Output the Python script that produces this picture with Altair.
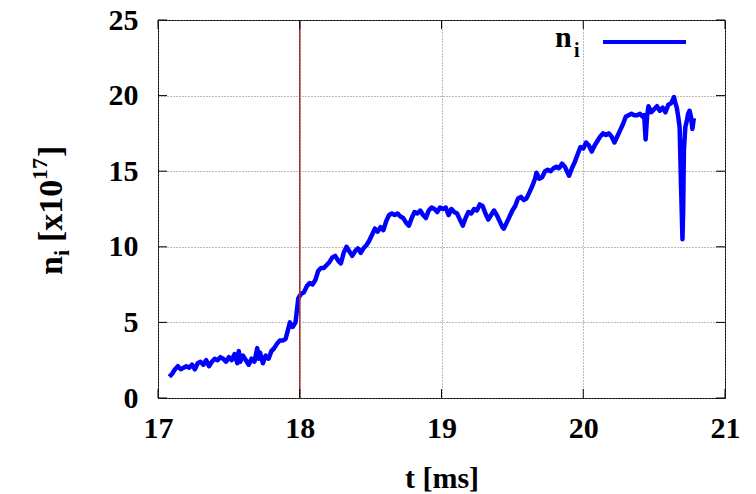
import altair as alt
import pandas as pd

# Ion density n_i [x10^17] against time t [ms]
t_ms = [
    17.08, 17.10, 17.12, 17.14, 17.16, 17.18, 17.20, 17.22, 17.24, 17.26,
    17.28, 17.30, 17.32, 17.34, 17.36, 17.38, 17.40, 17.42, 17.44, 17.46,
    17.48, 17.50, 17.52, 17.54, 17.56, 17.57, 17.58, 17.60, 17.62, 17.64,
    17.66, 17.68, 17.70, 17.71, 17.72, 17.74, 17.76, 17.78, 17.80, 17.82,
    17.84, 17.86, 17.88, 17.90, 17.92, 17.93, 17.95, 17.97, 17.98, 17.99,
    18.01, 18.03, 18.05, 18.07, 18.09, 18.11, 18.13, 18.15, 18.17, 18.19,
    18.21, 18.23, 18.25, 18.27, 18.29, 18.31, 18.33, 18.35, 18.37, 18.39,
    18.41, 18.43, 18.45, 18.47, 18.49, 18.51, 18.53, 18.55, 18.57, 18.59,
    18.61, 18.63, 18.65, 18.67, 18.69, 18.71, 18.73, 18.75, 18.77, 18.79,
    18.81, 18.83, 18.85, 18.87, 18.89, 18.91, 18.93, 18.95, 18.97, 18.99,
    19.01, 19.03, 19.05, 19.07, 19.09, 19.11, 19.13, 19.15, 19.17, 19.19,
    19.21, 19.23, 19.25, 19.27, 19.29, 19.31, 19.33, 19.35, 19.37, 19.39,
    19.41, 19.43, 19.44, 19.46, 19.48, 19.50, 19.52, 19.54, 19.56, 19.58,
    19.60, 19.62, 19.64, 19.66, 19.67, 19.69, 19.71, 19.73, 19.75, 19.77,
    19.79, 19.81, 19.83, 19.85, 19.87, 19.89, 19.90, 19.92, 19.94, 19.96,
    19.98, 20.00, 20.02, 20.04, 20.06, 20.08, 20.10, 20.12, 20.14, 20.16,
    20.18, 20.20, 20.22, 20.24, 20.26, 20.28, 20.30, 20.32, 20.34, 20.36,
    20.38, 20.40, 20.42, 20.43, 20.44, 20.45, 20.46, 20.48, 20.50, 20.52,
    20.54, 20.56, 20.58, 20.60, 20.62, 20.64, 20.65, 20.66, 20.67, 20.68,
    20.69, 20.70, 20.705, 20.71, 20.72, 20.73, 20.74, 20.75, 20.76, 20.77,
    20.78,
]
n_i = [
    1.4, 1.6, 1.9, 2.1, 1.9, 2.0, 2.1, 2.0, 2.2, 1.9,
    2.3, 2.4, 2.2, 2.5, 2.1, 2.4, 2.6, 2.5, 2.7, 2.6,
    2.4, 2.7, 2.5, 2.9, 2.3, 3.1, 2.4, 2.8, 2.5, 2.2,
    2.6, 2.4, 3.3, 2.6, 3.0, 2.3, 2.8, 2.6, 3.1, 3.3,
    3.6, 3.8, 3.8, 3.9, 4.6, 5.0, 4.7, 5.0, 5.8, 6.6,
    6.9, 7.0, 7.4, 7.6, 7.5, 7.8, 8.4, 8.6, 8.6, 8.8,
    9.0, 9.3, 9.4, 9.1, 8.9, 9.6, 10.0, 9.7, 9.4, 9.7,
    9.9, 9.6, 9.9, 10.1, 10.4, 10.8, 11.2, 11.0, 11.3, 11.1,
    11.7, 12.1, 12.2, 12.1, 12.2, 12.0, 11.9, 11.6, 11.4, 11.9,
    12.3, 12.2, 12.4, 12.1, 11.9, 12.4, 12.6, 12.5, 12.3, 12.6,
    12.5, 12.6, 12.1, 12.5, 12.3, 12.2, 11.8, 11.4, 11.9, 12.3,
    12.2, 12.5, 12.4, 12.8, 12.7, 12.2, 11.8, 12.1, 12.4, 12.1,
    11.7, 11.3, 11.2, 11.6, 12.0, 12.4, 12.7, 13.2, 13.3, 13.1,
    13.2, 13.6, 14.0, 14.5, 14.9, 14.5, 14.6, 15.0, 15.1, 15.0,
    15.2, 15.3, 15.2, 15.5, 15.3, 14.9, 14.7, 15.2, 15.6, 16.1,
    16.6, 16.5, 16.9, 16.7, 16.3, 16.7, 17.0, 17.3, 17.5, 17.4,
    17.5, 17.3, 16.9, 17.3, 17.7, 18.1, 18.6, 18.7, 18.8, 18.7,
    18.7, 18.8, 18.6, 18.7, 17.1, 18.6, 19.3, 18.9, 19.1, 19.3,
    19.0, 19.2, 18.9, 19.4, 19.5, 19.9, 19.5, 19.2, 18.6, 17.9,
    14.0, 10.5, 12.5, 16.4, 17.9, 18.3, 18.8, 19.0, 18.6, 17.8,
    18.5,
]

x_ticks = [17, 18, 19, 20, 21]
y_ticks = [0, 5, 10, 15, 20, 25]
marker_t = [18.0]

FONT = "'Liberation Serif', 'Times New Roman', Times, 'DejaVu Serif', serif"
W, H = 567, 378
TICK = 9

df = pd.DataFrame({"t": t_ms, "n": n_i})
xs = alt.Scale(domain=[17, 21], nice=False, zero=False)
ys = alt.Scale(domain=[0, 25], nice=False)

line = alt.Chart(df).mark_line(
    color="#0000ff", strokeWidth=4.5, strokeJoin="round"
).encode(
    x=alt.X("t:Q", scale=xs, axis=alt.Axis(
        values=x_ticks, title="t [ms]", labelPadding=15, titlePadding=20,
        labelFlush=False)),
    y=alt.Y("n:Q", scale=ys, axis=alt.Axis(
        values=y_ticks, title=None, labelPadding=20, labelFlush=False)),
)

marker = alt.Chart(pd.DataFrame({"t": marker_t})).mark_rule(
    color="#a3302c", strokeWidth=1.5
).encode(x=alt.X("t:Q", scale=xs, axis=None))

yt = pd.DataFrame({"v": y_ticks})
xt = pd.DataFrame({"v": x_ticks})
tick_l = alt.Chart(yt).mark_rule(color="black").encode(
    y=alt.Y("v:Q", scale=ys, axis=None), x=alt.value(0), x2=alt.value(TICK))
tick_r = alt.Chart(yt).mark_rule(color="black").encode(
    y=alt.Y("v:Q", scale=ys, axis=None), x=alt.value(W - TICK), x2=alt.value(W))
tick_b = alt.Chart(xt).mark_rule(color="black").encode(
    x=alt.X("v:Q", scale=xs, axis=None), y=alt.value(H - TICK), y2=alt.value(H))
tick_t = alt.Chart(xt).mark_rule(color="black").encode(
    x=alt.X("v:Q", scale=xs, axis=None), y=alt.value(0), y2=alt.value(TICK))


def label(txt, x, y, size, angle=0):
    return alt.Chart(pd.DataFrame({"s": [txt]})).mark_text(
        font=FONT, fontWeight="bold", fontSize=size, color="black",
        align="left", baseline="alphabetic", angle=angle
    ).encode(x=alt.value(x), y=alt.value(y), text="s:N")


# key: "n" with subscript "i" and a line sample
key = [
    label("n", 397, 27, 30),
    label("i", 416, 37, 20),
    alt.Chart(pd.DataFrame({"s": [0]})).mark_rule(
        color="#0000ff", strokeWidth=4
    ).encode(x=alt.value(445), x2=alt.value(528), y=alt.value(22)),
]

# rotated y title: n_i [x10^17]
ytitle = [
    label("n", -96, 255, 34, 270),
    label("i", -89, 236, 22, 270),
    label("[x10", -96, 222, 34, 270),
    label("17", -111, 160, 22, 270),
    label("]", -96, 137, 34, 270),
]

chart = alt.layer(
    line, marker, tick_l, tick_r, tick_b, tick_t, *key, *ytitle
).resolve_axis(
    x="independent", y="independent"
).properties(
    width=W, height=H,
    autosize=alt.AutoSizeParams(type="none"),
    padding={"left": 158, "top": 20, "right": 31, "bottom": 96},
    background="white",
).configure_view(
    stroke="black", strokeWidth=1
).configure_axis(
    labelFont=FONT, labelFontWeight="bold", labelFontSize=30, labelColor="black",
    titleFont=FONT, titleFontWeight="bold", titleFontSize=30, titleColor="black",
    domain=False, ticks=False, tickSize=0,
    grid=True, gridColor="#777777", gridDash=[1, 2], gridWidth=1,
)

chart.save("out.html", embed_options={"renderer": "svg", "actions": False})
